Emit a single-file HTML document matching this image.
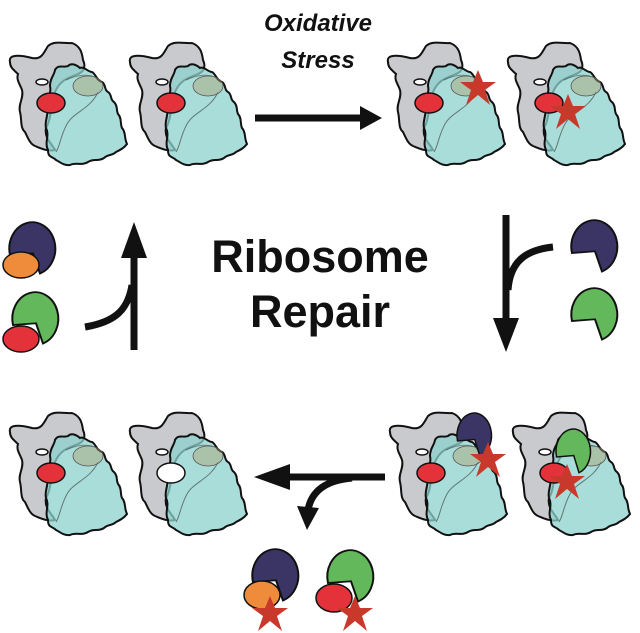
<!DOCTYPE html>
<html><head><meta charset="utf-8"><style>
html,body{margin:0;padding:0;background:#fff}
svg{display:block}
text{font-family:"Liberation Sans",sans-serif;font-weight:bold;fill:#111}
</style></head><body>
<svg width="640" height="633" viewBox="0 0 640 633" xmlns="http://www.w3.org/2000/svg">
<defs>
<g id="rib">
 <path d="M10,62 C8,54 20,55 32,58 C42,60 44,52 48,46 C55,40 65,44 72,43 C80,46 82,52 83,60 C86,66 84,72 78,74 C68,78 60,80 55,92 C50,105 52,118 46,128 C44,138 52,144 55,150 C48,152 40,148 35,146 C30,144 28,138 25,132 C20,128 22,120 20,112 C18,104 24,98 22,90 C20,84 16,80 18,74 C14,70 10,68 10,62 Z" fill="#c9cacd" stroke="#111" stroke-width="2"/>
 <path d="M55,70 C58,64 64,68 68,66 C72,62 78,66 80,68 C84,66 88,72 92,72 C96,74 96,80 102,82 C106,84 104,90 108,92 C112,94 110,100 114,102 C118,106 116,110 118,114 C122,118 120,124 122,128 C126,132 124,138 127,144 C124,148 120,150 116,152 C112,156 108,154 104,158 C98,162 94,158 88,162 C82,166 76,162 70,165 C64,166 60,162 56,160 C52,156 48,158 48,150 C44,142 50,136 46,128 C44,120 50,114 46,106 C46,98 52,94 50,86 C50,78 54,76 55,70 Z" fill="rgba(140,210,205,0.75)" stroke="#111" stroke-width="2"/>
 <path d="M98,92 C90,110 72,112 66,126 C60,138 60,146 56,152" fill="none" stroke="#333" stroke-width="1" opacity="0.6"/>
 <path d="M66,80 C74,76 84,74 92,76" fill="none" stroke="#333" stroke-width="1" opacity="0.5"/>
 <ellipse cx="42" cy="82" rx="6" ry="3" fill="#fff" stroke="#111" stroke-width="1.5"/>
 <ellipse cx="88" cy="86" rx="15" ry="10" fill="rgba(170,160,110,0.45)" stroke="#555" stroke-width="0.8"/>
</g>
<ellipse id="red" cx="51" cy="103" rx="14" ry="10" fill="#e3323a" stroke="#111" stroke-width="1.5"/>
<path id="pac" d="M-22,8 A23,30 0 1 1 8,29 L1,6 Z" stroke="#111" stroke-width="2"/>
<polygon id="star" points="0,-18 5,-6 18,-6 7,2 12,17 0,7 -12,17 -7,2 -18,-6 -5,-6" fill="#c8392b"/>
</defs>

<text x="318" y="31" font-size="24" font-style="italic" text-anchor="middle">Oxidative</text>
<text x="318" y="68" font-size="24" font-style="italic" text-anchor="middle">Stress</text>
<text x="320" y="272" font-size="45" text-anchor="middle">Ribosome</text>
<text x="320" y="327" font-size="45" text-anchor="middle">Repair</text>

<use href="#rib"/><use href="#red"/>
<g transform="translate(120,0)"><use href="#rib"/><use href="#red"/></g>
<g transform="translate(378,0)"><use href="#rib"/><use href="#red"/><use href="#star" transform="translate(100,88)"/></g>
<g transform="translate(498,0)"><use href="#rib"/><use href="#red"/><use href="#star" transform="translate(70,112)"/></g>

<g transform="translate(0,370)"><use href="#rib"/><use href="#red"/></g>
<g transform="translate(120,370)"><use href="#rib"/><ellipse cx="51" cy="103" rx="14" ry="10" fill="#fff" stroke="#111" stroke-width="1.5"/></g>
<g transform="translate(380,370)"><use href="#rib"/><use href="#red"/><use href="#pac" fill="#3a3565" transform="translate(94,65) scale(0.75)"/><use href="#star" transform="translate(108,90)"/></g>
<g transform="translate(503,370)"><use href="#rib"/><use href="#red"/><use href="#pac" fill="#62b85a" transform="translate(70,81) scale(0.75)"/><use href="#star" transform="translate(64,112)"/></g>

<g stroke="#111" stroke-width="7" fill="none">
 <line x1="255" y1="118" x2="360" y2="118"/>
 <line x1="134" y1="350" x2="134" y2="250"/>
 <path d="M85,327 C115,322 128,310 132,285"/>
 <line x1="506" y1="215" x2="506" y2="325"/>
 <path d="M553,247 C525,250 510,262 508,290"/>
 <line x1="385" y1="477" x2="285" y2="477"/>
 <path d="M352,478 C330,480 312,488 308,510"/>
</g>
<polygon points="360,106 382,118 360,130" fill="#111"/>
<polygon points="121,258 134,222 147,258" fill="#111"/>
<polygon points="493,318 506,352 519,318" fill="#111"/>
<polygon points="290,464 254,477 290,490" fill="#111"/>
<polygon points="297,506 307,530 319,508" fill="#111"/>

<use href="#pac" fill="#3a3565" transform="translate(32,248) scale(1,0.88)"/>
<ellipse cx="21" cy="265" rx="18" ry="13" fill="#ef8c3c" stroke="#111" stroke-width="1.5"/>
<use href="#pac" fill="#62b85a" transform="translate(35,318) scale(1,0.88)"/>
<ellipse cx="21" cy="339" rx="18" ry="13" fill="#e3323a" stroke="#111" stroke-width="1.5"/>
<use href="#pac" fill="#3a3565" transform="translate(594,246) scale(1,0.88)"/>
<use href="#pac" fill="#62b85a" transform="translate(594,314) scale(1,0.88)"/>
<use href="#pac" fill="#3a3565" transform="translate(275,575) scale(1,0.88)"/>
<ellipse cx="262" cy="595" rx="18" ry="14" fill="#ef8c3c" stroke="#111" stroke-width="1.5"/>
<use href="#star" transform="translate(270,614)"/>
<use href="#pac" fill="#62b85a" transform="translate(350,576) scale(1,0.88)"/>
<ellipse cx="334" cy="598" rx="18" ry="14" fill="#e3323a" stroke="#111" stroke-width="1.5"/>
<use href="#star" transform="translate(355,614)"/>
</svg>
</body></html>
